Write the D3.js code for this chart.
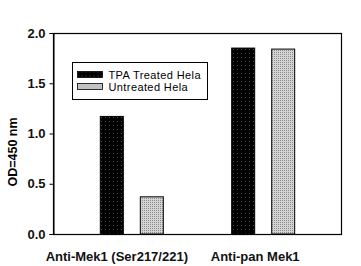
<!DOCTYPE html>
<html><head><meta charset="utf-8">
<script src="https://cdn.jsdelivr.net/npm/d3@7"></script>
<style>body{margin:0;background:#fff}svg{display:block}</style>
</head><body>
<script>
const categories = ["Anti-Mek1 (Ser217/221)", "Anti-pan Mek1"];
const seriesNames = ["TPA Treated Hela", "Untreated Hela"];
const tpaValues = [1.17, 1.85];
const untreatedValues = [0.37, 1.84];
const yTicks = [0.0, 0.5, 1.0, 1.5, 2.0];

const W = 361, H = 266;
const m = {left: 53, right: 19, top: 33, bottom: 32};
const svg = d3.select("body").append("svg").attr("width", W).attr("height", H);
const defs = svg.append("defs");
const p1 = defs.append("pattern").attr("id","pBlack").attr("patternUnits","userSpaceOnUse").attr("width",4).attr("height",4);
p1.append("rect").attr("width",4).attr("height",4).attr("fill","#000");
p1.append("rect").attr("x",1).attr("y",1).attr("width",1).attr("height",1).attr("fill","#4a4a4a");
const p2 = defs.append("pattern").attr("id","pGray").attr("patternUnits","userSpaceOnUse").attr("width",2).attr("height",2);
p2.append("rect").attr("width",2).attr("height",2).attr("fill","#d4d4d4");
p2.append("rect").attr("x",0).attr("y",0).attr("width",1).attr("height",1).attr("fill","#8c8c8c");
const fills = ["url(#pBlack)", "url(#pGray)"];

const x0 = d3.scaleBand().domain(categories).range([m.left, W - m.right]).paddingInner(0).paddingOuter(0.1);
const bw = x0.bandwidth();
const x1 = d3.scaleBand().domain(seriesNames).range([bw/2 - 40, bw/2 + 40]).paddingInner(0.425).paddingOuter(0.2125);
const y = d3.scaleLinear().domain([0, 2]).range([H - m.bottom, m.top]);

const data = categories.map((c, i) => ({cat: c, vals: [tpaValues[i], untreatedValues[i]]}));
const g = svg.append("g");
data.forEach(d => {
  d.vals.forEach((v, j) => {
    g.append("rect")
      .attr("x", x0(d.cat) + x1(seriesNames[j]))
      .attr("y", y(v))
      .attr("width", x1.bandwidth())
      .attr("height", y(0) - y(v))
      .attr("fill", fills[j])
      .attr("stroke", "#000").attr("stroke-width", 1);
  });
});

// frame
svg.append("rect").attr("x", m.left + 0.5).attr("y", m.top + 0.5)
  .attr("width", W - m.right - m.left - 1).attr("height", H - m.bottom - m.top)
  .attr("fill", "none").attr("stroke", "#000").attr("stroke-width", 1.2);

const yAxis = svg.append("g").attr("transform", `translate(${m.left + 0.5},0)`)
  .call(d3.axisLeft(y).tickValues(yTicks).tickFormat(d3.format(".1f")).tickSizeOuter(0).tickSize(4).tickPadding(4));
yAxis.select(".domain").attr("stroke", "#000");
yAxis.selectAll("text").attr("font-family", "Arial, 'Liberation Sans', sans-serif").attr("font-size", 13).attr("font-weight", "bold").attr("fill", "#111");

// category labels
const labelOffsets = [-15, -8];
svg.selectAll(".cat").data(categories).enter().append("text")
  .attr("x", (d, i) => x0(d) + bw/2 + labelOffsets[i])
  .attr("y", 261)
  .attr("text-anchor", "middle")
  .attr("font-family", "Arial, 'Liberation Sans', sans-serif").attr("font-size", 13).attr("font-weight", "bold")
  .attr("fill", "#111")
  .text(d => d);

// y title
svg.append("text").attr("transform", "translate(17,152) rotate(-90)")
  .attr("text-anchor", "middle")
  .attr("font-family", "Arial, 'Liberation Sans', sans-serif").attr("font-size", 12.5).attr("font-weight", "bold")
  .text("OD=450 nm");

// legend
const lg = svg.append("g").attr("transform", "translate(72.5,62.5)");
lg.append("rect").attr("width", 135).attr("height", 37).attr("fill", "#fff").attr("stroke", "#000");
seriesNames.forEach((s, i) => {
  lg.append("rect").attr("x", 5).attr("y", 9 + i * 12).attr("width", 25).attr("height", 6)
    .attr("fill", fills[i]).attr("stroke", "#000").attr("stroke-width", 0.8);
  lg.append("text").attr("x", 36).attr("y", 16 + i * 12)
    .attr("font-family", "Arial, 'Liberation Sans', sans-serif").attr("font-size", 11)
    .attr("letter-spacing", 0.4)
    .text(s);
});
</script>
</body></html>
